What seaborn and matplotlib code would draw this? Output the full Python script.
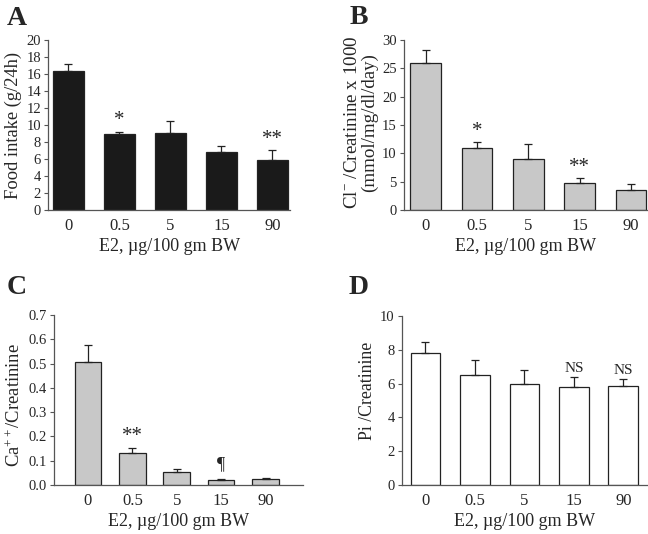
import numpy as np
import pandas as pd
import matplotlib
matplotlib.use("Agg")
import matplotlib.pyplot as plt
import seaborn as sns

# E2 doses (x categories)
doses = ["0", "0.5", "5", "15", "90"]

# panel A: food intake
food_mean = [16.4, 8.9, 9.0, 6.8, 5.85]
food_err = [0.8, 0.3, 1.5, 0.7, 1.15]
food_marks = ["", "*", "", "", "**"]

# panel B: Cl-/creatinine x 1000
cl_mean = [26.0, 11.0, 9.0, 4.7, 3.5]
cl_err = [2.3, 1.0, 2.7, 0.9, 1.0]
cl_marks = ["", "*", "", "**", ""]

# panel C: Ca++/creatinine
ca_mean = [0.505, 0.132, 0.053, 0.020, 0.025]
ca_err = [0.073, 0.021, 0.012, 0.003, 0.005]
ca_marks = ["", "**", "", "\u00b6", ""]

# panel D: Pi/creatinine
pi_mean = [7.8, 6.5, 6.0, 5.8, 5.85]
pi_err = [0.65, 0.9, 0.8, 0.6, 0.45]
pi_marks = ["", "", "", "NS", "NS"]

sns.set_style("ticks")
plt.rcParams["font.family"] = ["Liberation Serif", "DejaVu Serif"]
plt.rcParams["mathtext.fontset"] = "custom"
plt.rcParams["mathtext.rm"] = "Liberation Serif"
plt.rcParams["mathtext.it"] = "Liberation Serif:italic"

fig = plt.figure(figsize=(6.48, 5.34), dpi=100)

panels = [
    # label, label pos, axes pos, mean, err, marks, fill, ylim, yticks, ylabel, size, label y, xlim, fmt
    ("A", (7, 25), [0.074, 0.607, 0.374, 0.318], food_mean, food_err, food_marks, "#1a1a1a",
     (0, 20), np.arange(0, 21, 2), "Food intake (g/24h)", 13.3, 0.5, (-0.4, 4.35), "{:.0f}"),
    ("B", (350, 24), [0.623, 0.607, 0.377, 0.318], cl_mean, cl_err, cl_marks, "#c8c8c8",
     (0, 30), np.arange(0, 31, 5), "Cl$^{-}$ /Creatinine x 1000\n(mmol/mg/dl/day)", 13.7,
     0.515, (-0.43, 4.33), "{:.0f}"),
    ("C", (7, 294), [0.083, 0.092, 0.385, 0.318], ca_mean, ca_err, ca_marks, "#c8c8c8",
     (0, 0.7), np.arange(0, 0.71, 0.1), "Ca$^{++}$/Creatinine", 13.4, 0.47, (-0.77, 4.85), "{:.1f}"),
    ("D", (349, 294), [0.620, 0.092, 0.380, 0.316], pi_mean, pi_err, pi_marks, "white",
     (0, 10), np.arange(0, 11, 2), "Pi /Creatinine", 12.8, 0.56, (-0.48, 4.5), "{:.0f}"),
]

for label, lpos, pos, mean, err, marks, fill, ylim, yticks, ylabel, ylsize, ly, xlim, fmt in panels:
    ax = fig.add_axes(pos)
    df = pd.DataFrame({"dose": doses, "value": mean})
    sns.barplot(data=df, x="dose", y="value", color=fill, width=0.6,
                edgecolor="#222222", linewidth=0.9, errorbar=None, ax=ax)
    for p in ax.patches:
        p.set_facecolor(fill)
    xs = np.arange(len(doses))
    ax.errorbar(xs, mean, yerr=[np.zeros(len(err)), err], fmt="none",
                ecolor="#222222", elinewidth=0.9, capsize=3, capthick=0.9)
    for x, m, e, t in zip(xs, mean, err, marks):
        if t:
            fs = {"NS": 11, "\u00b6": 13}.get(t, 15)
            off = 4 if t == "\u00b6" else 1
            ax.annotate(t, (x, m + e), xytext=(0, off), textcoords="offset points",
                        ha="center", va="bottom", fontsize=fs)
    ax.set_ylim(*ylim)
    ax.set_xlim(*xlim)
    ax.set_yticks(yticks)
    ax.set_yticklabels([fmt.format(v) for v in yticks])
    ax.set_xlabel("E2, \u00b5g/100 gm BW", fontsize=13, labelpad=3)
    ax.set_ylabel(ylabel, fontsize=ylsize, labelpad=3, linespacing=0.95)
    ax.yaxis.label.set_y(ly)
    ax.tick_params(axis="y", direction="out", length=3, width=0.8, labelsize=10.5,
                   color="#555555", pad=2)
    ax.tick_params(axis="x", length=0, labelsize=12, pad=6)
    sns.despine(ax=ax)
    for s in ("left", "bottom"):
        ax.spines[s].set_color("#555555")
        ax.spines[s].set_linewidth(0.9)
    fig.text(lpos[0] / 648, 1 - lpos[1] / 534, label,
             fontsize=20, fontweight="bold", ha="left", va="baseline")

fig.savefig("out.png", dpi=100)
